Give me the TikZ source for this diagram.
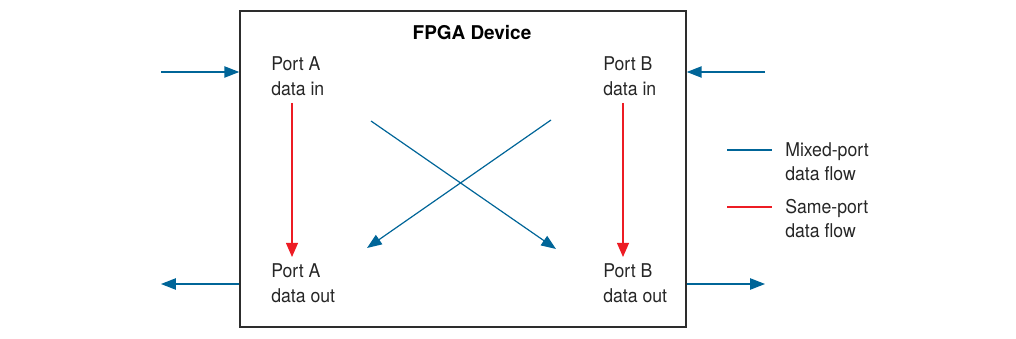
\documentclass[tikz,border=0pt]{standalone}
\usepackage{fontspec}
\setmainfont{TeX Gyre Heros}
\newfontfamily\narrowfont[FakeStretch=0.93]{TeX Gyre Heros}
\usetikzlibrary{arrows.meta}

\definecolor{flowblue}{RGB}{0,101,152}
\definecolor{flowred}{RGB}{237,28,36}
\definecolor{boxgray}{RGB}{45,45,45}

\tikzset{
    mixed/.style={draw=flowblue, line width=0.85pt, -{Triangle[length=10.5pt, width=8pt]}},
    sameport/.style={draw=flowred, line width=0.85pt, -{Triangle[length=10pt, width=8.5pt]}},
    porttext/.style={anchor=north west, inner sep=0pt, align=left, font=\narrowfont\fontsize{13.5}{18}\selectfont, text=black!85},
    legendtext/.style={anchor=west, inner sep=0pt, align=left, font=\narrowfont\fontsize{13.5}{17}\selectfont, text=black!85}
}

\begin{document}
\begin{tikzpicture}[x=0.025cm, y=-0.025cm]
    \useasboundingbox (0,0) rectangle (1016,339);

    % Le composant
    \node (fpga) [draw=boxgray, line width=1pt, minimum width=11.15cm, minimum height=7.9cm, inner sep=0pt] at (463,169) {};
    \node (title) at (472,33) [font=\fontsize{13.5}{16}\bfseries\selectfont] {FPGA Device};

    % Ports
    \node (ain)  [porttext] at (271,56)  {Port A\\data in};
    \node (bin)  [porttext] at (603,56)  {Port B\\data in};
    \node (aout) [porttext] at (271,263) {Port A\\data out};
    \node (bout) [porttext] at (603,263) {Port B\\data out};

    % Entrées et sorties
    \coordinate (inA)  at (161,72);
    \coordinate (inB)  at (765,72);
    \coordinate (outA) at (161,284);
    \coordinate (outB) at (765,284);
    \draw[mixed] (inA) -- (inA -| fpga.west);
    \draw[mixed] (inB) -- (inB -| fpga.east);
    \draw[mixed] (outA -| fpga.west) -- (outA);
    \draw[mixed] (outB -| fpga.east) -- (outB);

    % Même port
    \draw[sameport] ([shift={(21,7)}]ain.south west) -- ([shift={(21,-6)}]aout.north west);
    \draw[sameport] ([shift={(20,7)}]bin.south west) -- ([shift={(20,-6)}]bout.north west);

    % Ports croisés
    \coordinate (crossA) at (371,121);
    \coordinate (crossB) at (551,120);
    \coordinate (toB) at (556,249);
    \coordinate (toA) at (367,248);
    \draw[mixed] (crossA) -- (toB);
    \draw[mixed] (crossB) -- (toA);

    % Légende
    \coordinate (mixL) at (727,150);
    \coordinate (mixR) at (772,150);
    \coordinate (sameL) at (727,207);
    \coordinate (sameR) at (772,207);
    \draw[flowblue, line width=0.85pt] (mixL) -- (mixR);
    \draw[flowred, line width=0.85pt] (sameL) -- (sameR);
    \node (mixtext)  [legendtext, anchor=north west] at (785,142) {Mixed-port\\data flow};
    \node (sametext) [legendtext, anchor=north west] at (785,199) {Same-port\\data flow};
\end{tikzpicture}
\end{document}
